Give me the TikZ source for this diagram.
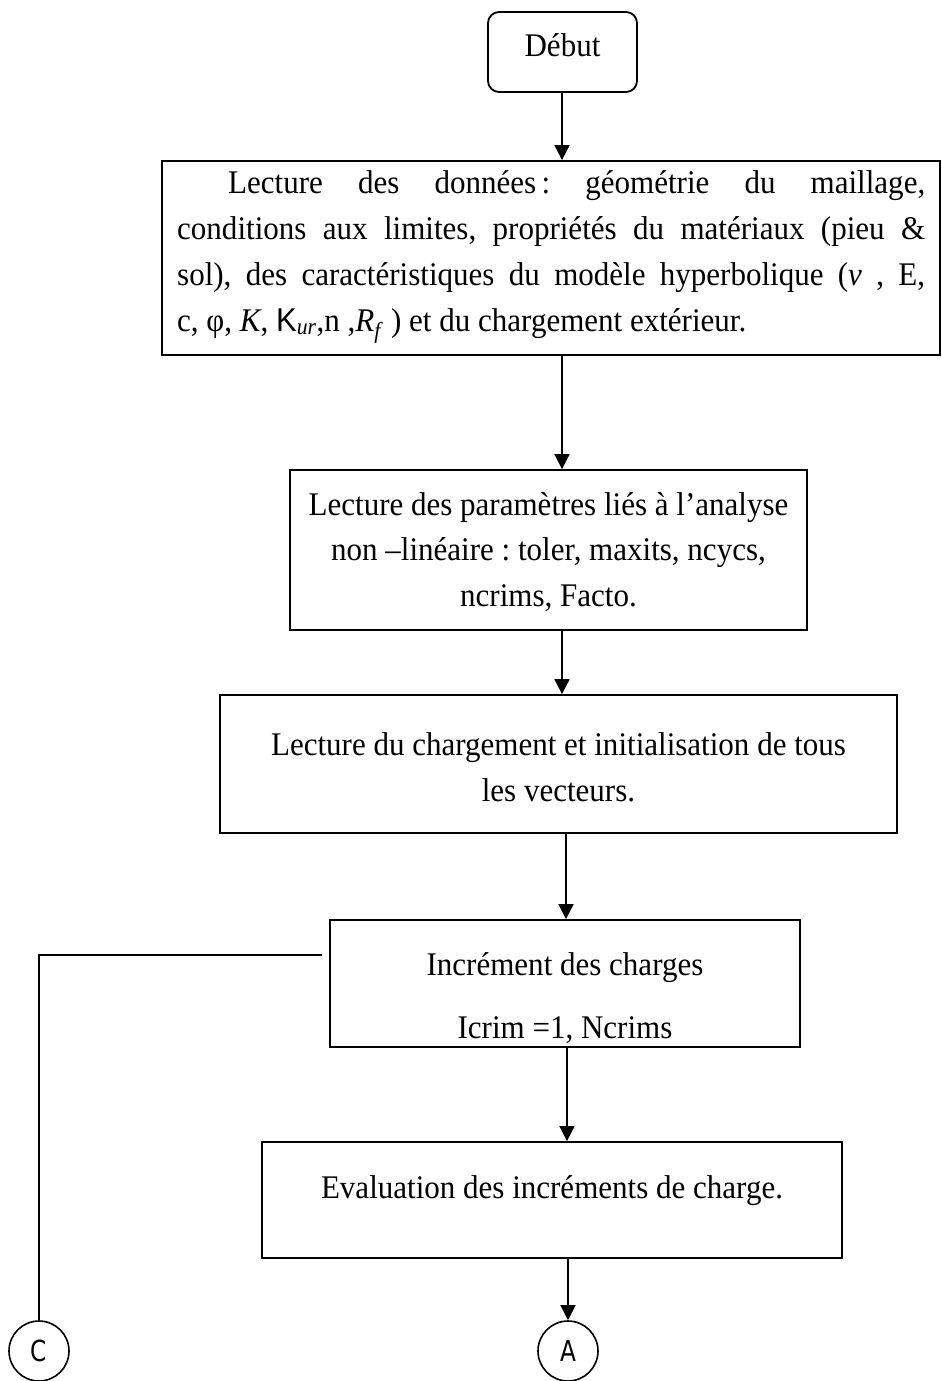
\documentclass[tikz,border=0pt]{standalone}
\usepackage{fontspec}
\setmainfont{Liberation Serif}[FakeStretch=0.94]
\newfontfamily\lblfont[FakeStretch=0.8]{DejaVu Sans}
\newfontfamily\kfont[FakeStretch=0.94]{Liberation Sans}
\usetikzlibrary{arrows.meta}
\frenchspacing

\tikzset{
  box/.style={draw, line width=1.8pt, rectangle, inner sep=0pt},
  startbox/.style={box, rounded corners=11pt},
  conn/.style={draw, circle, line width=1.6pt, minimum size=60pt, inner sep=0pt,
               font=\lblfont\fontsize{29}{29}\selectfont},
  txt/.style={inner sep=0pt, font=\fontsize{33}{40}\selectfont},
  arr/.style={line width=1.8pt, -{Triangle[length=15pt,width=15pt]}},
  link/.style={line width=1.6pt}
}

\begin{document}
\begin{tikzpicture}[x=1pt,y=-1pt]
\useasboundingbox (0,0) rectangle (942,1381);

% flowchart blocks
\node[startbox, minimum width=149pt, minimum height=80pt] (debut) at (562.5,52) {};
\node[box, minimum width=778pt, minimum height=194pt] (b1) at (551,258) {};
\node[box, minimum width=517pt, minimum height=160pt] (b2) at (548.5,550) {};
\node[box, minimum width=677pt, minimum height=138pt] (b3) at (558.5,764) {};
\node[box, minimum width=470pt, minimum height=127pt] (b4) at (565,983.5) {};
\node[box, minimum width=580pt, minimum height=116pt] (b5) at (552,1200) {};
\node[conn] (cA) at (568,1351) {A};
\node[conn] (cC) at (39,1351) {C};

% texts
\node[txt, anchor=base] (tdeb) at (562.5,57) {Début};

\node[txt, anchor=base west] (t1a) at (228,193)
  {\makebox[697pt][s]{Lecture des données\,: géométrie du maillage,}};
\node[txt, anchor=base west] (t1b) at (177,239)
  {\makebox[748pt][s]{conditions aux limites, propriétés du matériaux (pieu \&}};
\node[txt, anchor=base west] (t1c) at (177,285)
  {\makebox[748pt][s]{sol), des caractéristiques du modèle hyperbolique (\textit{ν} , E,}};
\node[txt, anchor=base west] (t1d) at (177,331)
  {c, φ, \textit{K}, {\kfont K}\textsubscript{\textit{ur}},n ,\textit{R}\textsubscript{\textit{f}} ) et du chargement extérieur.};

\node[txt, anchor=base] (t2a) at (548.5,515) {Lecture des paramètres liés à l’analyse};
\node[txt, anchor=base] (t2b) at (548.5,560) {non –linéaire : toler, maxits, ncycs,};
\node[txt, anchor=base] (t2c) at (548.5,606) {ncrims, Facto.};

\node[txt, anchor=base] (t3a) at (558.5,755) {Lecture du chargement et initialisation de tous};
\node[txt, anchor=base] (t3b) at (558.5,801) {les vecteurs.};

\node[txt, anchor=base] (t4a) at (565,975) {Incrément des charges};
\node[txt, anchor=base] (t4b) at (565,1038) {Icrim =1, Ncrims};

\node[txt, anchor=base] (t5a) at (552,1198) {Evaluation des incréments de charge.};

% arrow columns
\coordinate (xa) at (562,0);
\coordinate (xb) at (566,0);
\coordinate (xc) at (567,0);
\coordinate (xd) at (568,0);

\draw[arr] (debut.south -| xa) -- (b1.north -| xa);
\draw[arr] (b1.south -| xa) -- (b2.north -| xa);
\draw[arr] (b2.south -| xa) -- (b3.north -| xa);
\draw[arr] (b3.south -| xb) -- (b4.north -| xb);
\draw[arr] (b4.south -| xc) -- (b5.north -| xc);
\draw[arr] (b5.south -| xd) -- (cA.north);

% loop-back link to connector C
\coordinate (cstart) at (322,955);
\draw[link] (cstart) -| (cC.north);
\end{tikzpicture}
\end{document}
